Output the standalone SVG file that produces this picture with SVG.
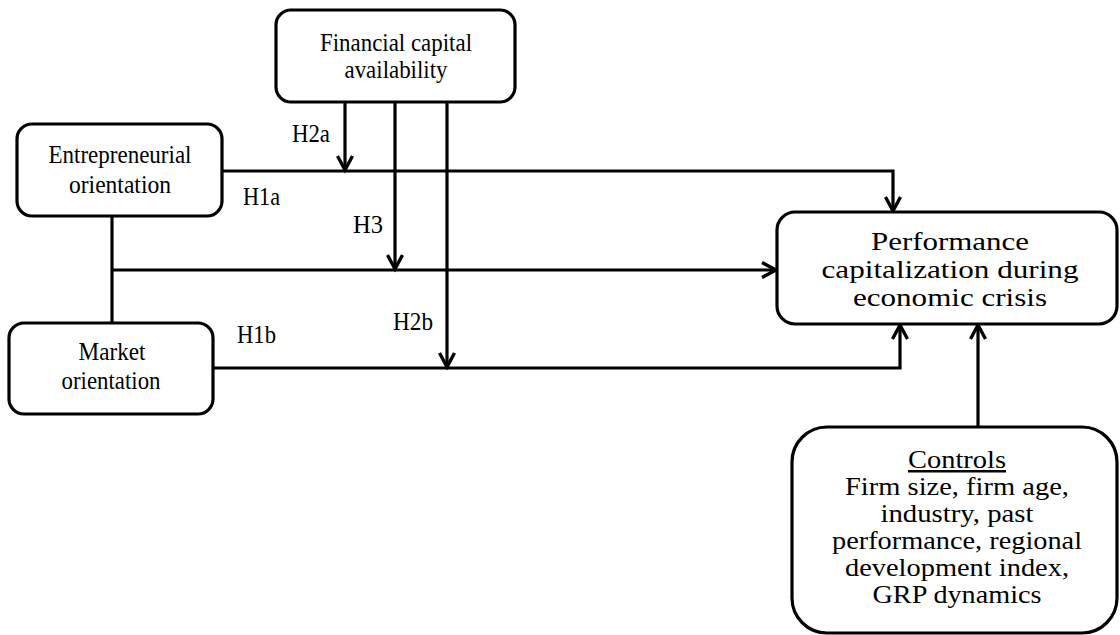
<svg xmlns="http://www.w3.org/2000/svg" width="1120" height="635" viewBox="0 0 1120 635">
<style>
.box{fill:#fff;stroke:#000;stroke-width:3.2}
.ln{fill:none;stroke:#000;stroke-width:3.2}
.t{font-family:"Liberation Serif","Times New Roman",serif;font-size:25px;fill:#000;text-anchor:middle}
.lb{font-family:"Liberation Serif","Times New Roman",serif;font-size:25px;fill:#000}
</style>
<defs>
<marker id="arr" markerUnits="userSpaceOnUse" markerWidth="24" markerHeight="24" viewBox="-18 -12 24 24" refX="0" refY="0" orient="auto" overflow="visible">
<path d="M-14,-7.5 L0,0 L-14,7.5" fill="none" stroke="#000" stroke-width="3.4"/>
</marker>
</defs>
<rect width="1120" height="635" fill="#fff"/>
<g id="connectors">
<path class="ln" d="M222,171 H893 V211" marker-end="url(#arr)"/>
<path class="ln" d="M112,216 V323"/>
<path class="ln" d="M112,270 H776" marker-end="url(#arr)"/>
<path class="ln" d="M213,368 H900 V325" marker-end="url(#arr)"/>
<path class="ln" d="M345,102 V170" marker-end="url(#arr)"/>
<path class="ln" d="M395,102 V269" marker-end="url(#arr)"/>
<path class="ln" d="M447,102 V367" marker-end="url(#arr)"/>
<path class="ln" d="M978,427 V325" marker-end="url(#arr)"/>
</g>
<g id="labels">
<text class="lb" x="292" y="142" textLength="38" lengthAdjust="spacingAndGlyphs">H2a</text>
<text class="lb" x="243" y="205" textLength="37" lengthAdjust="spacingAndGlyphs">H1a</text>
<text class="lb" x="353" y="233" textLength="30" lengthAdjust="spacingAndGlyphs">H3</text>
<text class="lb" x="237" y="343" textLength="39" lengthAdjust="spacingAndGlyphs">H1b</text>
<text class="lb" x="393" y="330" textLength="40" lengthAdjust="spacingAndGlyphs">H2b</text>
</g>
<g id="financial">
<rect class="box" x="276" y="10" width="239" height="92" rx="15"/>
<text class="t" x="396" y="51" textLength="152" lengthAdjust="spacingAndGlyphs">Financial capital</text>
<text class="t" x="396" y="78" textLength="103" lengthAdjust="spacingAndGlyphs">availability</text>
</g>
<g id="entrepreneurial">
<rect class="box" x="17" y="124" width="205" height="92" rx="15"/>
<text class="t" x="120" y="163" textLength="143" lengthAdjust="spacingAndGlyphs">Entrepreneurial</text>
<text class="t" x="120" y="193" textLength="102" lengthAdjust="spacingAndGlyphs">orientation</text>
</g>
<g id="market">
<rect class="box" x="9" y="323" width="204" height="91" rx="15"/>
<text class="t" x="112" y="360" textLength="67" lengthAdjust="spacingAndGlyphs">Market</text>
<text class="t" x="111" y="389" textLength="99" lengthAdjust="spacingAndGlyphs">orientation</text>
</g>
<g id="performance">
<rect class="box" x="777" y="212" width="340" height="112" rx="18"/>
<text class="t" x="950" y="250" textLength="158" lengthAdjust="spacingAndGlyphs">Performance</text>
<text class="t" x="950" y="278" textLength="257" lengthAdjust="spacingAndGlyphs">capitalization during</text>
<text class="t" x="950" y="306" textLength="194" lengthAdjust="spacingAndGlyphs">economic crisis</text>
</g>
<g id="controls">
<rect class="box" x="792" y="427" width="325" height="206" rx="35"/>
<text class="t" x="957" y="468" textLength="98" lengthAdjust="spacingAndGlyphs" text-decoration="underline">Controls</text>
<text class="t" x="957" y="495" textLength="224" lengthAdjust="spacingAndGlyphs">Firm size, firm age,</text>
<text class="t" x="957" y="522" textLength="153" lengthAdjust="spacingAndGlyphs">industry, past</text>
<text class="t" x="957" y="549" textLength="250" lengthAdjust="spacingAndGlyphs">performance, regional</text>
<text class="t" x="957" y="576" textLength="224" lengthAdjust="spacingAndGlyphs">development index,</text>
<text class="t" x="957" y="603" textLength="169" lengthAdjust="spacingAndGlyphs">GRP dynamics</text>
</g>
</svg>
